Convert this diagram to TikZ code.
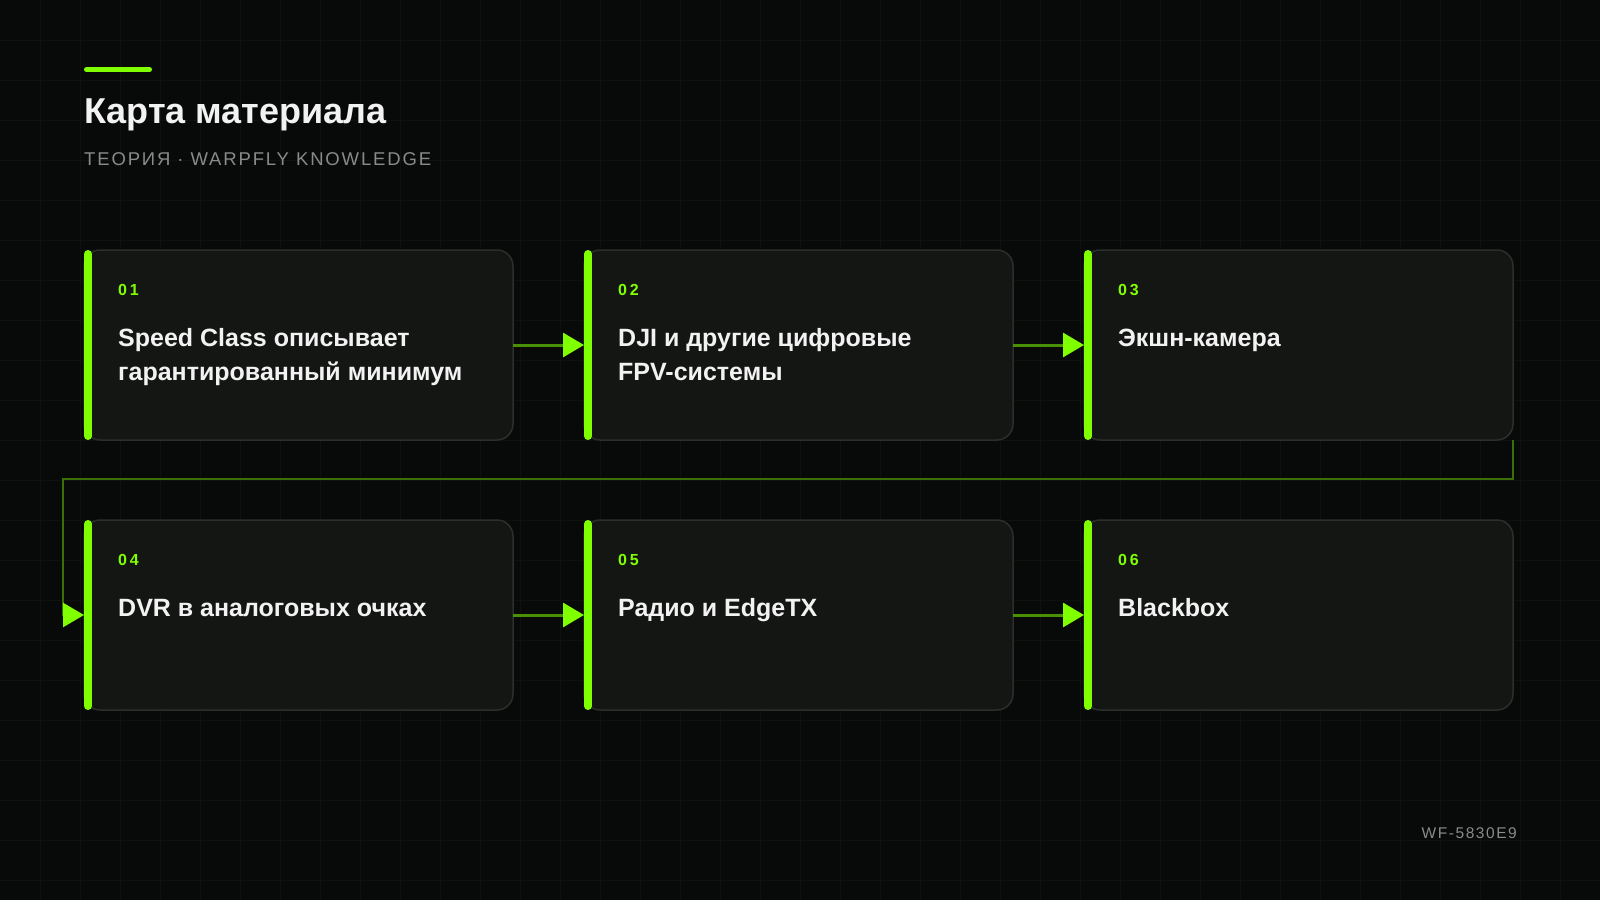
\documentclass[tikz,border=0pt]{standalone}
\usepackage{fontspec}
\setmainfont{Liberation Sans}
\newfontfamily\trackfont[LetterSpace=10]{Liberation Sans}
\newfontfamily\numfont[LetterSpace=18]{Liberation Sans}
\usepackage{tikz}
\usetikzlibrary{positioning, arrows.meta}

\definecolor{fondo}{HTML}{080909}
\definecolor{rejillac}{HTML}{0F110F}
\definecolor{tarjeta}{HTML}{141614}
\definecolor{borde}{HTML}{2B2E2B}
\definecolor{lima}{HTML}{80FF00}
\definecolor{blanco}{HTML}{F2F2F2}
\definecolor{gris}{HTML}{8A8A8A}

\tikzset{
  rejilla/.style={draw=rejillac, line width=1pt},
  card/.style={draw=borde, fill=tarjeta, line width=1.5pt, rounded corners=16pt,
    minimum width=429pt, minimum height=190pt, inner sep=0pt, outer sep=0pt,
    anchor=north west},
  barra/.style={draw=lima, line width=8pt, line cap=round},
  num/.style={anchor=base west, inner sep=0pt, text=lima,
    font=\numfont\bfseries\fontsize{16}{16}\selectfont},
  texto/.style={anchor=base west, inner sep=0pt, text=blanco, align=left,
    font=\bfseries\fontsize{25}{34}\selectfont},
  flujo/.style={draw=lima!55!fondo, line width=3pt,
    -{Triangle[length=21pt, width=24pt, color=lima]}},
}

\begin{document}
\begin{tikzpicture}[x=1pt, y=-1pt]
    % Fondo y rejilla
    \fill[fondo] (0,0) rectangle (1600,900);
    \useasboundingbox (0,0) rectangle (1600,900);
    \foreach \x in {40,80,...,1560} {
        \draw[rejilla] (\x,0) -- (\x,900);
    }
    \foreach \y in {40,80,...,880} {
        \draw[rejilla] (0,\y) -- (1600,\y);
    }

    % Encabezado
    \draw[lima, line width=5pt, line cap=round] (86.5,69.5) -- (149.5,69.5);
    \node[anchor=base west, inner sep=0pt, text=blanco, font=\bfseries\fontsize{36}{40}\selectfont] (titulo) at (84,123) {Карта материала};
    \node[anchor=base west, inner sep=0pt, text=gris, font=\trackfont\fontsize{18.5}{18.5}\selectfont] (subtitulo) at (84,165) {ТЕОРИЯ · WARPFLY KNOWLEDGE};

    % Tarjetas
    \node[card] (c1) at (84,250) {};
    \node[card, right=71pt of c1] (c2) {};
    \node[card, right=71pt of c2] (c3) {};
    \node[card, below=80pt of c1] (c4) {};
    \node[card, right=71pt of c4] (c5) {};
    \node[card, right=71pt of c5] (c6) {};

    % Barras verdes y numeros
    \foreach \i/\n in {1/01,2/02,3/03,4/04,5/05,6/06} {
        \draw[barra] ([shift={(4,4)}]c\i.north west) -- ([shift={(4,-4)}]c\i.south west);
        \node[num] (n\i) at ([shift={(34,45)}]c\i.north west) {\n};
    }

    % Textos (en dos lineas la base es la ultima linea)
    \node[texto] (t1) at ([shift={(34,130)}]c1.north west) {Speed Class описывает\\гарантированный минимум};
    \node[texto] (t2) at ([shift={(34,130)}]c2.north west) {DJI и другие цифровые\\FPV-системы};
    \node[texto] (t3) at ([shift={(34,96)}]c3.north west) {Экшн-камера};
    \node[texto] (t4) at ([shift={(34,96)}]c4.north west) {DVR в аналоговых очках};
    \node[texto] (t5) at ([shift={(34,96)}]c5.north west) {Радио и EdgeTX};
    \node[texto] (t6) at ([shift={(34,96)}]c6.north west) {Blackbox};

    % Flechas
    \draw[flujo] (c1.east) -- (c2.west);
    \draw[flujo] (c2.east) -- (c3.west);
    \draw[flujo, draw=lima!42!fondo, line width=2.5pt] (c3.south east) -- ++(0,39) -| ([xshift=-21pt]c4.west) -- (c4.west);
    \draw[flujo] (c4.east) -- (c5.west);
    \draw[flujo] (c5.east) -- (c6.west);

    % Marca
    \node[anchor=base east, inner sep=0pt, text=gris, font=\trackfont\fontsize{15.5}{15.5}\selectfont] (marca) at (1517,838) {WF-5830E9};
\end{tikzpicture}
\end{document}
